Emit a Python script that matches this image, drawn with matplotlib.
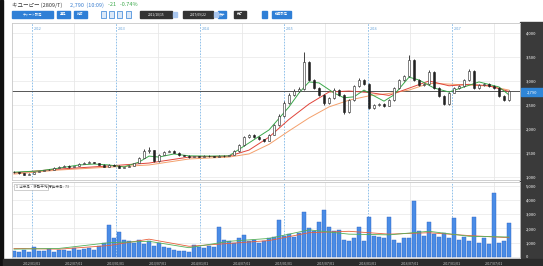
import numpy as np
import pandas as pd
import matplotlib
matplotlib.use('Agg')
import matplotlib.pyplot as plt
import matplotlib.dates as mdates
from matplotlib.patches import Rectangle

plt.rcParams['font.family'] = ['Noto Sans CJK JP', 'DejaVu Sans']

# ---- data ----
dates = pd.date_range('2011-10-15', periods=100, freq='522h')

open_ = [1110, 1100, 1080, 1045, 1060, 1100, 1120, 1145, 1150, 1190,
         1210, 1230, 1205, 1225, 1270, 1290, 1310, 1295, 1250, 1210,
         1255, 1230, 1190, 1205, 1230, 1290, 1395, 1540, 1565, 1330,
         1455, 1520, 1540, 1500, 1455, 1440, 1415, 1435, 1420, 1440,
         1435, 1420, 1440, 1435, 1455, 1540, 1665, 1830, 1875, 1830,
         1790, 1750, 1875, 2080, 2270, 2540, 2710, 2790, 2835, 3395,
         3020, 2855, 2710, 2540, 2645, 2810, 2710, 2355, 2605, 2895,
         3020, 2940, 2440, 2500, 2520, 2480, 2605, 2855, 3020, 3105,
         3435, 3020, 2915, 2940, 3190, 2855, 2690, 2520, 2750, 2855,
         2895, 3020, 3210, 2855, 2915, 2940, 2895, 2855, 2690, 2605]
close = [1100, 1080, 1045, 1060, 1100, 1120, 1145, 1150, 1190, 1210,
         1230, 1205, 1225, 1270, 1290, 1310, 1295, 1250, 1210, 1255,
         1230, 1190, 1205, 1230, 1290, 1395, 1540, 1565, 1330, 1455,
         1520, 1540, 1500, 1455, 1440, 1415, 1435, 1420, 1440, 1435,
         1420, 1440, 1435, 1455, 1540, 1665, 1830, 1875, 1830, 1790,
         1750, 1875, 2080, 2270, 2540, 2710, 2790, 2835, 3395, 3020,
         2855, 2710, 2540, 2645, 2810, 2710, 2355, 2605, 2895, 3020,
         2940, 2440, 2500, 2520, 2480, 2605, 2855, 3020, 3105, 3435,
         3020, 2915, 2940, 3190, 2855, 2690, 2520, 2750, 2855, 2895,
         3020, 3210, 2855, 2915, 2940, 2895, 2855, 2690, 2605, 2790]
high = [1125, 1110, 1090, 1075, 1110, 1130, 1155, 1165, 1200, 1225,
        1245, 1240, 1235, 1285, 1305, 1330, 1320, 1300, 1260, 1270,
        1265, 1240, 1215, 1240, 1300, 1420, 1580, 1625, 1570, 1470,
        1540, 1560, 1555, 1510, 1465, 1450, 1445, 1445, 1450, 1450,
        1445, 1450, 1450, 1465, 1560, 1690, 1860, 1900, 1890, 1845,
        1800, 1895, 2110, 2310, 2580, 2750, 2830, 2880, 3600, 3420,
        3050, 2870, 2720, 2670, 2850, 2830, 2730, 2630, 2920, 3060,
        3040, 2960, 2530, 2550, 2540, 2620, 2880, 3050, 3130, 3540,
        3450, 3040, 2960, 3220, 3210, 2870, 2700, 2770, 2880, 2920,
        3040, 3240, 3220, 2930, 2960, 2950, 2910, 2870, 2700, 2810]
low = [1090, 1070, 1035, 1040, 1055, 1095, 1115, 1140, 1145, 1185,
       1205, 1195, 1200, 1220, 1265, 1285, 1290, 1245, 1200, 1205,
       1220, 1185, 1185, 1200, 1225, 1285, 1390, 1500, 1310, 1320,
       1450, 1510, 1490, 1445, 1430, 1405, 1410, 1410, 1415, 1425,
       1410, 1415, 1425, 1430, 1450, 1530, 1655, 1815, 1815, 1780,
       1735, 1745, 1865, 2065, 2255, 2520, 2690, 2770, 2820, 3000,
       2830, 2690, 2500, 2520, 2630, 2690, 2320, 2340, 2590, 2880,
       2920, 2420, 2420, 2480, 2450, 2470, 2590, 2840, 3000, 3090,
       3000, 2890, 2900, 2920, 2840, 2670, 2500, 2500, 2740, 2840,
       2880, 3000, 2840, 2840, 2900, 2880, 2840, 2670, 2580, 2590]

volume = [420, 350, 500, 380, 700, 450, 400, 550, 380, 480,
          520, 450, 600, 480, 550, 650, 500, 800, 1000, 2240,
          1300, 1750, 1200, 1100, 1000, 1200, 900, 1100, 800, 1000,
          700, 600, 500, 450, 400, 350, 840, 700, 650, 800,
          700, 2100, 1200, 1100, 1000, 1300, 1540, 1100, 1200, 1000,
          1150, 1300, 1400, 2600, 1500, 1600, 1400, 1700, 3150, 2000,
          1800, 2450, 3300, 2100, 1800, 1900, 1200, 1100, 1300, 2100,
          1100, 2800, 1500, 1400, 1300, 2800, 1200, 1000, 1300, 1300,
          3900, 1800, 1500, 2450, 1600, 1400, 1700, 1300, 2700, 1200,
          1400, 1100, 2800, 1000, 1300, 900, 4500, 1000, 1100, 2400]

# moving averages (sampled at candle indices)
ma_s_idx = [0, 5, 9, 13, 16, 19, 22, 25, 27, 29, 32, 35, 39, 43, 47, 51, 55, 57,
            59, 61, 64, 66, 68, 70, 72, 74, 76, 79, 81, 84, 87, 90, 93, 97, 99]
ma_short = [1100, 1125, 1185, 1250, 1270, 1250, 1210, 1310, 1435, 1415, 1480, 1440,
            1435, 1440, 1710, 1980, 2460, 2750, 2980, 2960, 2750, 2650, 2670, 2810,
            2690, 2580, 2710, 3080, 3020, 2855, 2770, 2875, 2980, 2875, 2710]
ma_l_idx = [0, 9, 19, 27, 35, 43, 47, 51, 55, 59, 63, 67, 71, 75, 79, 83, 87, 91, 95, 99]
ma_mid = [1085, 1165, 1230, 1290, 1415, 1435, 1560, 1830, 2200, 2520, 2770, 2790,
          2760, 2700, 2850, 3000, 2900, 2930, 2900, 2780]
ma_long = [1060, 1145, 1205, 1250, 1375, 1415, 1480, 1680, 1960, 2230, 2460, 2600,
           2690, 2740, 2810, 2950, 2935, 2915, 2895, 2810]

vma_idx = [0, 9, 19, 27, 35, 43, 51, 59, 67, 75, 83, 91, 99]
vma_red = [600, 550, 800, 1250, 750, 950, 1150, 1700, 1800, 1600, 1700, 1500, 1350]
vma_green = [550, 600, 1000, 1100, 650, 1100, 1300, 1900, 1600, 1550, 1800, 1450, 1400]

last_price = 2790
price_ticks = [1000, 1500, 2000, 2500, 3000, 3500, 4000]
vol_ticks = [0, 1000, 2000, 3000, 4000, 5000]
years = [2012, 2013, 2014, 2015, 2016, 2017]

# ---- figure ----
W, H = 543, 266
fig = plt.figure(figsize=(W / 100, H / 100), dpi=100)


def prect(x0, y0, x1, y1, **kw):
    fig.add_artist(Rectangle((x0 / W, 1 - y1 / H), (x1 - x0) / W, (y1 - y0) / H,
                             transform=fig.transFigure, **kw))


def ptext(x, y, s, **kw):
    fig.text(x / W, 1 - y / H, s, **kw)


# dark frame strips
prect(0, 0, 3, H, color='#111111', zorder=-2)
prect(520, 22, W, H, color='#3a3a3a', zorder=-2)
prect(3, 259, W, H, color='#2b2b2b', zorder=-2)

ax = fig.add_axes([12 / W, 1 - 180 / H, 508 / W, 157 / H])
axv = fig.add_axes([12 / W, 1 - 258 / H, 508 / W, 76 / H], sharex=ax)

x = mdates.date2num(dates.to_pydatetime())
step = x[1] - x[0]
o = np.array(open_)
c = np.array(close)
up = c >= o

ax.vlines(x, low, high, color='#222222', lw=0.6, zorder=3)
ax.bar(x[up], (c - o)[up], bottom=o[up], width=step * 0.45,
       facecolor='white', edgecolor='#222222', lw=0.4, zorder=4)
ax.bar(x[~up], (c - o)[~up], bottom=o[~up], width=step * 0.45,
       facecolor='#222222', edgecolor='#222222', lw=0.4, zorder=4)

ax.plot(x[ma_l_idx], ma_long, color='#f4a06c', lw=0.7, zorder=2)
ax.plot(x[ma_l_idx], ma_mid, color='#e0443a', lw=0.7, zorder=2)
ax.plot(x[ma_s_idx], ma_short, color='#3aa84a', lw=0.7, zorder=2)

ax.axhline(last_price, color='#555555', lw=0.7, zorder=1)

axv.bar(x, volume, width=step * 0.92, color='#4a8ce6', edgecolor='#2d63c4', lw=0.3)
axv.plot(x[vma_idx], vma_red, color='#e8603c', lw=0.6)
axv.plot(x[vma_idx], vma_green, color='#55b05a', lw=0.6)

xl = (x[0] - 0.4 * step, x[0] + 101.2 * step)
ax.set_xlim(xl)
ax.set_ylim(937, 4208)
axv.set_ylim(-70, 5250)

jan = [mdates.date2num(pd.Timestamp(f'{y}-01-01')) for y in years]
jul = [mdates.date2num(pd.Timestamp(f'{y}-07-01')) for y in years]
for a in (ax, axv):
    for d in jan:
        a.axvline(d, color='#7fb7e6', lw=0.6, ls=(0, (2, 1.5)), zorder=0.5)
    for d in jul:
        a.axvline(d, color='#e3e3e3', lw=0.5, zorder=0.5)
    a.yaxis.tick_right()
    a.tick_params(axis='y', labelsize=3, length=0, pad=4, labelcolor='white')
    a.grid(axis='y', color='#e8e8e8', lw=0.5)
    a.set_axisbelow(True)
    for s in a.spines.values():
        s.set_color('#c8c8c8')
        s.set_linewidth(0.6)

for d, y in zip(jan, years):
    ax.text(d + 8, 0.975, str(y), transform=ax.get_xaxis_transform(),
            fontsize=2.5, color='#5a9bd5', va='top')

ax.set_yticks(price_ticks)
ax.set_yticklabels([f'{v:,}' for v in price_ticks])
axv.set_yticks(vol_ticks)
axv.set_yticklabels([f'{v:,}' for v in vol_ticks])

ticks = sorted(jan + jul)
axv.set_xticks(ticks)
axv.set_xticklabels([mdates.num2date(t).strftime('%Y/%m/%d') for t in ticks])
axv.tick_params(axis='x', labelsize=2.5, length=0, pad=2.5, labelcolor='#cfcfcf')
ax.tick_params(axis='x', labelbottom=False, length=0)

# current price tag
prect(521, 88, W, 96, color='#2f86d8', zorder=-1)
ptext(532, 92, f'{last_price:,}', fontsize=3, color='white', ha='center', va='center')

# volume header
prect(14, 184, 48, 190, facecolor='white', edgecolor='#aaaaaa', lw=0.4, zorder=5)
ptext(16, 187, '1  出来高・移動平均(▼)', fontsize=2.5, color='#444444', va='center', zorder=6)
ptext(52, 187, '出来高 : 73', fontsize=2.5, color='#444444', va='center', zorder=6)

# title
ptext(12, 5, 'キユーピー (2809/T)', fontsize=4, color='#333333', va='center')
ptext(70, 5, f'{last_price:,}  (10:09)', fontsize=4, color='#3a7fd0', va='center')
ptext(108, 5, '-21   -0.74%', fontsize=4, color='#3aa84a', va='center')

# toolbar buttons
blue = '#2f7fd6'
for x0, x1, lab in [(12, 53, 'チャート設定'), (57, 70, '週足'), (74, 87, '比較'),
                    (218, 226, '表示'), (262, 267, ''), (272, 291, '描画設定')]:
    prect(x0, 11, x1, 17.5, color=blue)
    if lab:
        ptext((x0 + x1) / 2, 14.2, lab, fontsize=2.3, color='white', ha='center', va='center')
for x0 in (101, 109, 117, 126):
    prect(x0, 11, x0 + 5, 17.5, facecolor='#dce9f8', edgecolor=blue, lw=0.5)
for x0, x1, lab in [(140, 172, '2011/10/15'), (183, 213, '2017/09/22'), (234, 246, '完了')]:
    prect(x0, 11, x1, 17.5, color='#333333')
    ptext((x0 + x1) / 2, 14.2, lab, fontsize=2.3, color='white', ha='center', va='center')
for x0 in (172, 213):
    prect(x0 + 1, 12, x0 + 5, 17, color='#a9c6ee')

fig.savefig('out.png', dpi=100)
